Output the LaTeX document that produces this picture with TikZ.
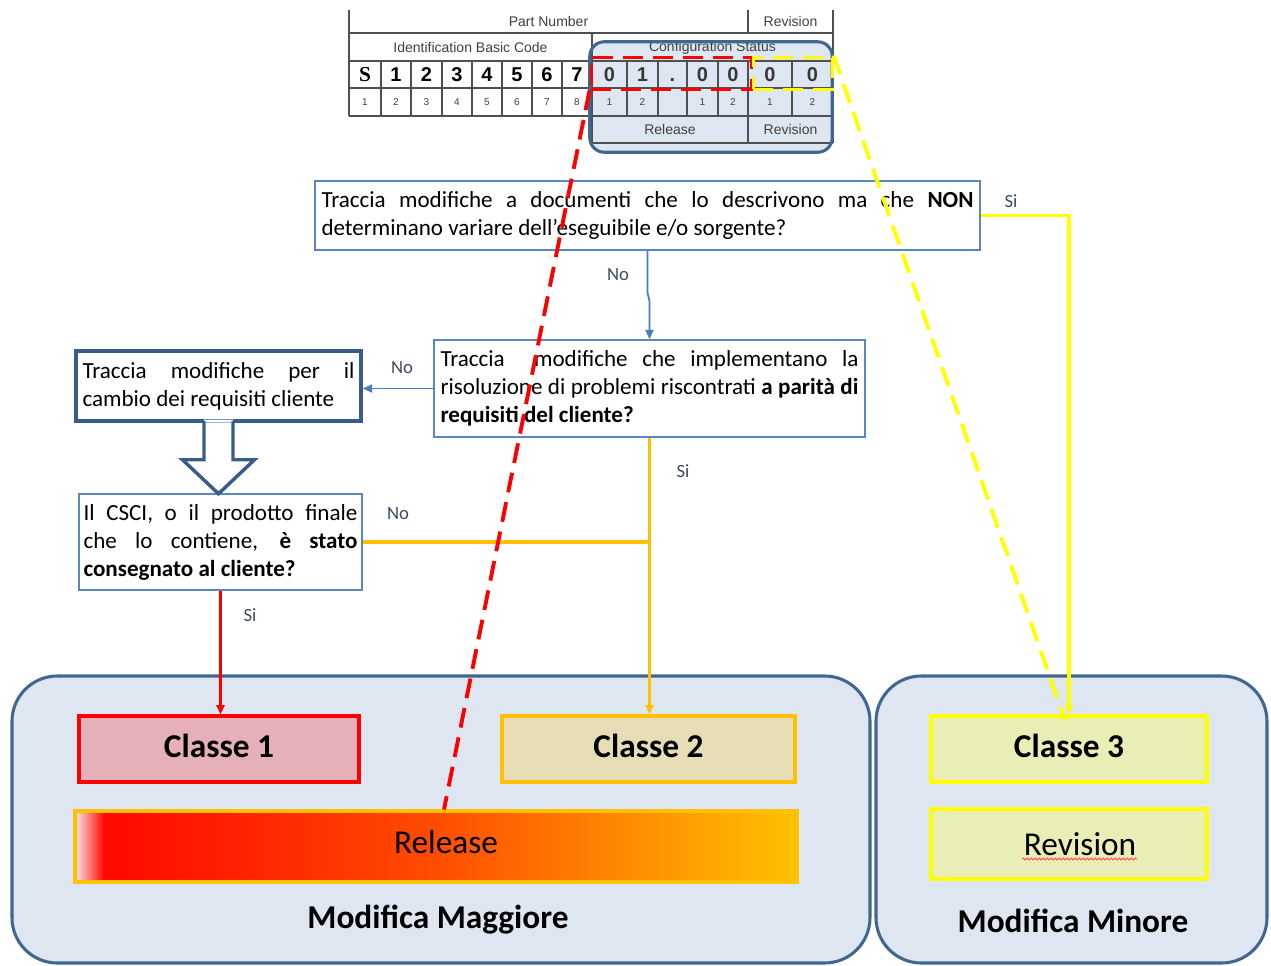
\documentclass[tikz,border=0pt]{standalone}
\usepackage{fontspec}
\setmainfont{Carlito}
\newfontfamily\arialf{Liberation Sans}
\newfontfamily\timesf{Liberation Serif}
\usetikzlibrary{arrows.meta,calc,decorations.pathmorphing}

% palette
\definecolor{boxblue}{HTML}{5B87C0}
\definecolor{linkblue}{HTML}{4A7EBB}
\definecolor{darkblue}{HTML}{385D8A}
\definecolor{panelfill}{HTML}{DDE6F1}
\definecolor{panelline}{HTML}{41668F}
\definecolor{cgold}{HTML}{FFC000}
\definecolor{cyellow}{HTML}{FFFF00}
\definecolor{cred}{HTML}{FF0000}
\definecolor{c1fill}{HTML}{E6B0B8}
\definecolor{c2fill}{HTML}{E6DDB6}
\definecolor{c3fill}{HTML}{E9EDB6}
\definecolor{labelcol}{HTML}{3C4A66}
\definecolor{tabline}{HTML}{505050}
\definecolor{tabtext}{HTML}{404040}

% colour run of the release bar (pale edge, red, orange, gold)
\definecolor{rg0}{HTML}{FBE6E6}
\definecolor{rg1}{HTML}{FF0800}
\definecolor{rg2}{HTML}{FF3300}
\definecolor{rg3}{HTML}{FF4D00}
\definecolor{rg4}{HTML}{FF8500}
\definecolor{rg5}{HTML}{FFC000}
\pgfdeclarehorizontalshading{releasegrad}{100bp}{color(0bp)=(rg0); color(25bp)=(rg0);
  color(27bp)=(rg1); color(42bp)=(rg2); color(50bp)=(rg3); color(62bp)=(rg4);
  color(75bp)=(rg5); color(100bp)=(rg5)}

\newcommand\qfont{\fontsize{17.3}{21}\selectfont\tolerance=10000\hyphenpenalty=10000}

\begin{document}
\begin{tikzpicture}[x=0.75pt,y=-0.75pt,
  panel/.style={draw=panelline, line width=2.3pt, fill=panelfill, rounded corners=34pt},
  paneltitle/.style={font=\fontsize{25}{30}\selectfont\bfseries, inner sep=0pt},
  classbox/.style={line width=2.4pt, minimum height=49.5pt, inner sep=0pt,
    text height=17pt, text depth=5pt, font=\fontsize{25}{30}\selectfont\bfseries},
  qbox/.style={draw=boxblue, line width=1.1pt, fill=white, align=justify,
    font=\qfont, inner xsep=4.875pt, inner ysep=0pt},
  lbl/.style={text=labelcol, font=\fontsize{14}{16}\selectfont, inner sep=0pt},
  tab/.style={draw=tabline, line width=1.2pt},
  hdr/.style={text=tabtext, font=\arialf\fontsize{10.5}{13}\selectfont, inner sep=0pt},
  digit/.style={font=\arialf\bfseries\fontsize{15}{17}\selectfont, inner sep=0pt,
    text height=10.8pt, text depth=0pt},
  small/.style={text=tabtext, font=\arialf\fontsize{7.5}{9}\selectfont, inner sep=0pt},
  selbox/.style={line width=2.25pt, dash pattern=on 15pt off 7.5pt, minimum height=24pt, inner sep=0pt},
  tip/.style={-{Triangle[length=7pt,width=6pt]}},
  bluelink/.style={draw=linkblue, line width=1.3pt},
  colorlink/.style={line width=2.5pt},
  blockarrow/.style={draw=darkblue, line width=2.6pt, line join=miter},
  bigdash/.style={line width=2.9pt, dash pattern=on 15pt off 7.5pt}
]
\useasboundingbox (0,0) rectangle (1271,965);

% ---------- the two class panels ----------
\node[panel, minimum width=643.5pt, minimum height=215.25pt] (major) at (441,819.5) {};
\node[panel, minimum width=293.25pt, minimum height=215.25pt] (minor) at (1071.5,819.5) {};
\node[paneltitle] (majtitle) at (438,920) {Modifica Maggiore};
\node[paneltitle] (mintitle) at (1073,921) {Modifica Minore};

\node[classbox, draw=cred, fill=c1fill, minimum width=210pt] (c1) at (219,749) {Classe 1};
\node[classbox, draw=cgold, fill=c2fill, minimum width=219.75pt] (c2) at (648.5,749) {Classe 2};
\node[classbox, draw=cyellow, fill=c3fill, minimum width=207pt] (c3) at (1069,749) {Classe 3};

\node[draw=cgold, line width=2.4pt, shading=releasegrad, minimum width=541.5pt,
  minimum height=53.25pt, inner sep=0pt, text height=17pt, text depth=6pt,
  font=\fontsize{25}{30}\selectfont]
  (rel) at (436,846.5) {\hspace*{15pt}Release};
\node[draw=cyellow, line width=2.4pt, fill=c3fill, minimum width=207pt,
  minimum height=52.5pt, inner sep=0pt, font=\fontsize{25}{30}\selectfont]
  (rev) at (1069,844) {\hspace*{16.5pt}Revision};
\draw[red!70, line width=0.6pt, decorate, decoration={snake, amplitude=0.8pt, segment length=3pt}]
  ($(rev.center)+(-47,15)$) -- ($(rev.center)+(68,15)$);

% ---------- part number table ----------
\node[fill=panelfill, rounded corners=11pt, minimum width=181.5pt, minimum height=82.5pt,
  inner sep=0pt] (cfg) at (711,97) {};

\draw[tab] (349,10) -- (349,116);
\draw[tab] (833,10) -- (833,143);
\draw[tab] (748,10) -- (748,33);
\draw[tab] (748,61) -- (748,143);
\draw[tab] (592,33) -- (592,143);
\foreach \x in {381,411,442,472,502,532,562,627,658,687,718,792}
  \draw[tab] (\x,61) -- (\x,116);
\foreach \y in {33,61,88,116}
  \draw[tab] (349,\y) -- (833,\y);
\draw[tab] (592,143) -- (833,143);

\node[hdr] (hpart) at (548.5,21.5) {Part Number};
\node[hdr] (hrev) at (790.5,21.5) {Revision};
\node[hdr] (hibc) at (470.5,47) {Identification Basic Code};
\node[hdr] (hcfg) at (712.5,48) {Configuration Status};
\node[hdr] (hrel) at (670,129.5) {Release};
\node[hdr] (hrev2) at (790.5,129.5) {Revision};

\node[font=\timesf\bfseries\fontsize{16}{18}\selectfont, inner sep=0pt,
  text height=10.8pt, text depth=0pt] (dS) at (365,74.5) {S};
\foreach \x/\t [count=\i] in {396/1,426.5/2,457/3,487/4,517/5,547/6,577/7}
  \node[digit] (dl\i) at (\x,74.5) {\t};
\foreach \x/\t [count=\i] in {609.5/0,642.5/1,672.5/.,702.5/0,733/0,770/0,812.5/0}
  \node[digit, text=black!78] (dr\i) at (\x,74.5) {\t};
\foreach \x/\t [count=\i] in {365/1,396/2,426.5/3,457/4,487/5,517/6,547/7,577/8,
    609.5/1,642.5/2,702.5/1,733/2,770/1,812.5/2}
  \node[small] (n\i) at (\x,102) {\t};

\draw[panelline, line width=2.3pt, rounded corners=11pt] (cfg.south west) rectangle (cfg.north east);

\node[selbox, draw=cred, minimum width=120pt] (relsel) at (671,73) {};
\node[selbox, draw=cyellow, minimum width=59.25pt] (revsel) at (792.5,73) {};

% ---------- decision boxes ----------
\node[qbox, text width=489pt, minimum width=498.75pt, minimum height=51.75pt] (q1) at (647.5,215.5)
  {Traccia modifiche a documenti che lo descrivono ma che \textbf{NON}\linebreak
   determinano variare dell’eseguibile e/o sorgente?};
\node[qbox, text width=313.5pt, minimum width=323.25pt, minimum height=72.75pt] (q2) at (649.5,388.5)
  {Traccia\ \ modifiche che implementano la\linebreak
   risoluzione di problemi riscontrati \textbf{a parità di}\linebreak
   \textbf{requisiti del cliente?}};
\node[qbox, draw=darkblue, line width=2.6pt, text width=204pt, minimum width=213.75pt,
  minimum height=52.5pt] (c) at (218.5,386)
  {Traccia modifiche per il\linebreak cambio dei requisiti cliente};
\node[qbox, text width=205.5pt, inner xsep=3.4pt, minimum width=212.25pt, minimum height=72pt] (d) at (220.5,542)
  {Il CSCI, o il prodotto finale\linebreak
   che lo contiene, \textbf{è stato}\linebreak
   \textbf{consegnato al cliente?}};

% hollow block arrow from c down to d
\fill[white] ($(c.south)+(-14.5,-3)$) -- ($(c.south)+(-14.5,37)$) -- ($(c.south)+(-36,37)$)
  -- ($(c.south)+(0,71)$) -- ($(c.south)+(36,37)$) -- ($(c.south)+(14.5,37)$)
  -- ($(c.south)+(14.5,-3)$) -- cycle;
\draw[blockarrow] ($(c.south)+(-14.5,-1.7)$) -- ($(c.south)+(-14.5,37)$) -- ($(c.south)+(-36,37)$)
  -- ($(c.south)+(0,71)$) -- ($(c.south)+(36,37)$) -- ($(c.south)+(14.5,37)$)
  -- ($(c.south)+(14.5,-1.7)$);
\draw[boxblue!60, line width=0.6pt] ($(c.south)+(-13,0)$) -- ($(c.south)+(13,0)$);

% ---------- connectors ----------
\draw[bluelink, tip] (q1.south) -- ++(0,42) -- ($(q2.north)+(0,-38)$) -- (q2.north);
\draw[bluelink, tip] (q2.west) -- (q2.west -| c.east);
\draw[colorlink, draw=cyellow, tip] (q1.east) -| (c3.north);
\draw[colorlink, draw=cgold, tip] (q2.south) -- (q2.south |- c2.north);
\draw[colorlink, draw=cgold] (d.east) -- (d.east -| q2.south);
\draw[colorlink, draw=cred, tip] (d.south) -- (d.south |- c1.north);

\node[lbl] (si1) at (1011,201) {Si};
\node[lbl] (no1) at (618,275) {No};
\node[lbl] (no2) at (402,368) {No};
\node[lbl] (si2) at (683,471) {Si};
\node[lbl] (no3) at (398,514) {No};
\node[lbl] (si3) at (250,615) {Si};

% ---------- code fields traced down to their classes ----------
\draw[bigdash, draw=cred] (relsel.south west) -- ($(rel.north)+(8,0)$);
\draw[bigdash, draw=cyellow] (revsel.north east) -- ($(c3.north)+(-4,6)$);
\end{tikzpicture}
\end{document}
